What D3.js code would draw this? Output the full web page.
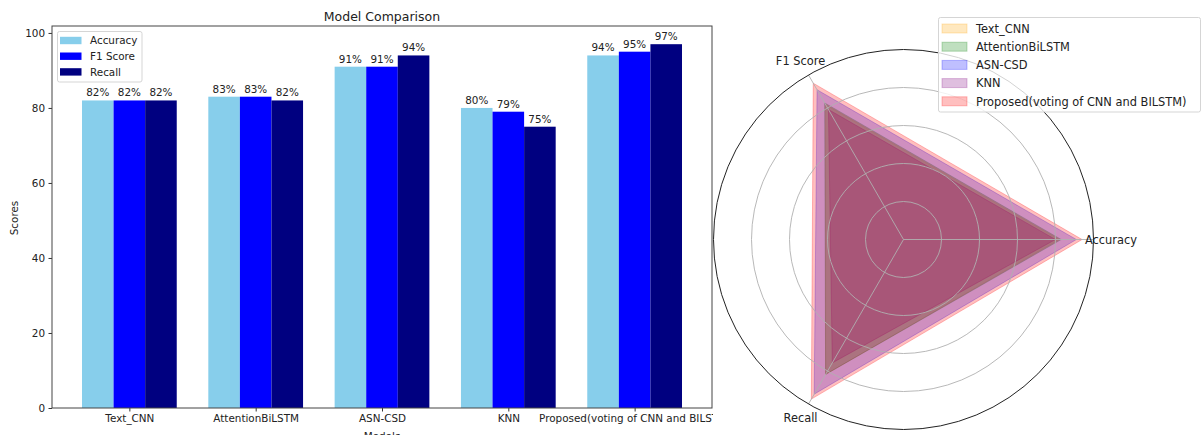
<!DOCTYPE html>
<html><head><meta charset="utf-8">
<script src="https://cdn.jsdelivr.net/npm/d3@7"></script>
<style>html,body{margin:0;padding:0;background:#fff;}svg{display:block;font-family:"DejaVu Sans",sans-serif;}</style>
</head><body>
<svg id="c" width="1202" height="435"></svg>
<script>
// ---- data ----
const models = ["Text_CNN", "AttentionBiLSTM", "ASN-CSD", "KNN", "Proposed(voting of CNN and BILSTM)"];
const metrics = ["Accuracy", "F1 Score", "Recall"];
const accuracy = [82, 83, 91, 80, 94];
const f1Score = [82, 83, 91, 79, 95];
const recall = [82, 82, 94, 75, 97];
const yTicks = [0, 20, 40, 60, 80, 100];
const radarGrid = [20, 40, 60, 80];

const series = [accuracy, f1Score, recall];
const barColors = ["#87CEEB", "#0000FF", "#000080"];
const radarColors = ["#FFA500", "#008000", "#0000FF", "#800080", "#FF0000"];

const svg = d3.select("#c");
const TXT = "#222";

// ---- bar chart ----
const L = 52, R = 712, T = 26, B = 408;
const bw = 0.25;
const x = d3.scaleLinear().domain([-0.6125, 4.6125]).range([L, R]);
const y = d3.scaleLinear().domain([0, 101.85]).range([B, T]);
const g = svg.append("g");

series.forEach((vals, j) => {
  g.selectAll(null).data(vals).enter().append("rect")
    .attr("x", (d, i) => x(i + (j - 1) * bw - bw / 2))
    .attr("width", x(bw) - x(0))
    .attr("y", d => y(d))
    .attr("height", d => B - y(d))
    .attr("fill", barColors[j]);
  g.selectAll(null).data(vals).enter().append("text")
    .attr("x", (d, i) => x(i + (j - 1) * bw))
    .attr("y", d => y(d) - 4)
    .attr("text-anchor", "middle")
    .attr("font-size", "10.4px").attr("fill", TXT)
    .text(d => d + "%");
});

// y axis
const yAxis = d3.axisLeft(y).tickValues(yTicks).tickSize(3.5).tickPadding(3.5);
const ya = g.append("g").attr("transform", `translate(${L},0)`).call(yAxis);
ya.select(".domain").remove();
ya.selectAll("text").attr("font-size", "10.4px").attr("fill", TXT).attr("font-family", "DejaVu Sans");
ya.selectAll("line").attr("stroke", "#333");
// x axis
const xAxis = d3.axisBottom(x).tickValues(d3.range(models.length)).tickFormat(i => models[i]).tickSize(3.5).tickPadding(3.5);
const xa = g.append("g").attr("transform", `translate(0,${B})`).call(xAxis);
xa.select(".domain").remove();
xa.selectAll("text").attr("font-size", "10.4px").attr("fill", TXT).attr("font-family", "DejaVu Sans");
xa.selectAll("line").attr("stroke", "#333");
// frame
g.append("rect").attr("x", L).attr("y", T).attr("width", R - L).attr("height", B - T)
  .attr("fill", "none").attr("stroke", "#444").attr("stroke-width", 1);

g.append("text").attr("x", (L + R) / 2).attr("y", 20.5).attr("text-anchor", "middle")
  .attr("font-size", "12.5px").attr("fill", TXT).text("Model Comparison");
g.append("text").attr("x", (L + R) / 2).attr("y", 440).attr("text-anchor", "middle")
  .attr("font-size", "10.4px").attr("fill", TXT).text("Models");
g.append("text").attr("transform", "translate(17.5,218) rotate(-90)").attr("text-anchor", "middle")
  .attr("font-size", "10.4px").attr("fill", TXT).text("Scores");

// bar legend
const lg = g.append("g");
lg.append("rect").attr("x", 57.5).attr("y", 31.5).attr("width", 84.5).attr("height", 50.5).attr("rx", 2)
  .attr("fill", "#fff").attr("fill-opacity", 0.8).attr("stroke", "#d5d5d5");
metrics.forEach((m, j) => {
  const cy = 40.5 + j * 15.7;
  lg.append("rect").attr("x", 60).attr("y", cy - 3.7).attr("width", 21.5).attr("height", 7.4).attr("fill", barColors[j]);
  lg.append("text").attr("x", 90).attr("y", cy + 3.8).attr("font-size", "10.4px").attr("fill", TXT).text(m);
});

// ---- radar chart ----
const rg = svg.append("g");
rg.append("rect").attr("x", 713).attr("y", 0).attr("width", 1202 - 713).attr("height", 435).attr("fill", "#fff");
const cx = 903.5, cy = 239.5, RAD = 190;
const r = d3.scaleLinear().domain([0, 100]).range([0, RAD]);
const ang = metrics.map((m, k) => k * 2 * Math.PI / metrics.length);
const pt = (v, a) => [cx + r(v) * Math.cos(a), cy - r(v) * Math.sin(a)];

models.forEach((m, i) => {
  const vals = series.map(s => s[i]);
  const pts = vals.map((v, k) => pt(v, ang[k]));
  rg.append("path").attr("d", d3.line()(pts) + "Z")
    .attr("fill", radarColors[i]).attr("fill-opacity", 0.25)
    .attr("stroke", radarColors[i]).attr("stroke-opacity", 0.25).attr("stroke-width", 1);
});
// grid
radarGrid.forEach(v => {
  rg.append("circle").attr("cx", cx).attr("cy", cy).attr("r", r(v))
    .attr("fill", "none").attr("stroke", "#b0b0b0").attr("stroke-width", 0.9);
});
ang.forEach(a => {
  const p = pt(100, a);
  rg.append("line").attr("x1", cx).attr("y1", cy).attr("x2", p[0]).attr("y2", p[1])
    .attr("stroke", "#b0b0b0").attr("stroke-width", 0.9);
});
rg.append("circle").attr("cx", cx).attr("cy", cy).attr("r", r(100))
  .attr("fill", "none").attr("stroke", "#222").attr("stroke-width", 1);
metrics.forEach((m, k) => {
  const p = [cx + (RAD + 16) * Math.cos(ang[k]), cy - (RAD + 16) * Math.sin(ang[k])];
  rg.append("text").attr("x", p[0] + (k === 0 ? 1.5 : 0)).attr("y", p[1] + 4)
    .attr("text-anchor", "middle").attr("font-size", "11.4px").attr("fill", TXT).text(m);
});

// radar legend
const rl = rg.append("g");
rl.append("rect").attr("x", 938.5).attr("y", 17.5).attr("width", 262).attr("height", 94.5).attr("rx", 2)
  .attr("fill", "#fff").attr("fill-opacity", 0.8).attr("stroke", "#d5d5d5");
models.forEach((m, i) => {
  const yy = 28.5 + i * 18.2;
  rl.append("rect").attr("x", 942).attr("y", yy - 4.5).attr("width", 25).attr("height", 9)
    .attr("fill", radarColors[i]).attr("fill-opacity", 0.25)
    .attr("stroke", radarColors[i]).attr("stroke-opacity", 0.25);
  rl.append("text").attr("x", 976).attr("y", yy + 4.2).attr("font-size", "11.4px").attr("fill", TXT).text(m);
});
</script>
</body></html>
